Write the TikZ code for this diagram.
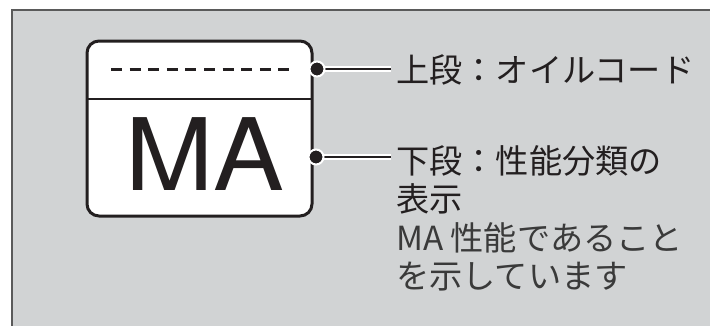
\documentclass[tikz,border=0pt]{standalone}
\usepackage{fontspec}
\newfontfamily\cjk{Noto Sans CJK JP}
\newfontfamily\heros{TeX Gyre Heros}
\definecolor{panel}{HTML}{D1D3D4}
\definecolor{frame}{HTML}{5A5A5A}
\definecolor{ink}{HTML}{231F20}
\definecolor{soft}{HTML}{3A3A3A}
\begin{document}
\begin{tikzpicture}[x=1pt,y=-1pt,
  boxline/.style={draw=ink,line width=3pt},
  lead/.style={draw=white,double=ink,double distance=2.4pt,line width=1.5pt},
  dot/.style={circle,fill=ink,draw=white,line width=2pt,minimum size=15pt,inner sep=0pt},
  lbl/.style={anchor=base west,inner xsep=5pt,inner ysep=0pt,text=ink,font=\cjk\fontsize{33.2}{38.5}\selectfont}]
\useasboundingbox (0,0) rectangle (710,325);
% panel
\fill[panel] (12,10) rectangle (711,326);
\draw[frame,line width=1.2pt] (12,326) -- (12,10) -- (711,10);
% marking box
\draw[boxline,fill=white,rounded corners=12pt] (87,41) rectangle (312,216);
\draw[draw=ink,line width=2pt] (87,99) -- (312,99);
\draw[draw=ink,line width=3pt,dash pattern=on 11pt off 7.6pt] (111,69) -- (291,69);
\node[anchor=base,inner sep=0pt,text=ink,font=\heros\fontsize{100}{100}\selectfont,xscale=1.06] (ma) at (204.5,190) {MA};
% anchor points
\coordinate (pa) at (317,69);
\coordinate (pb) at (316,157);
% labels
\node[lbl] (la) at (391,82) {上段：オイルコード};
\node[lbl] (lb) at (391,173) {\vtop{\baselineskip=38.5pt\lineskiplimit=-20pt
  \hbox{下段：性能分類の}\hbox{表示}\hbox{\color{soft}MA 性能であること}\hbox{\color{soft}を示しています}}};
% connectors
\draw[lead] (pa) -- (pa -| la.west);
\draw[lead] (pb) -- (pb -| lb.west);
\node[dot] (da) at (pa) {};
\node[dot] (db) at (pb) {};
\end{tikzpicture}
\end{document}
